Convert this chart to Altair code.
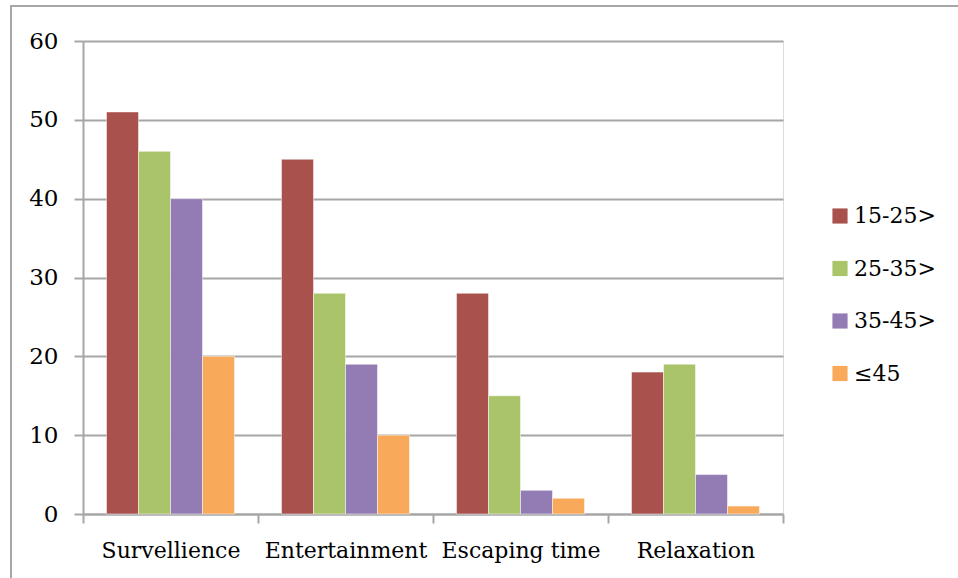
import altair as alt
import pandas as pd

categories = ["Survellience", "Entertainment", "Escaping time", "Relaxation"]
age_groups = ["15-25>", "25-35>", "35-45>", "≤45"]
values_15_25 = [51, 45, 28, 18]
values_25_35 = [46, 28, 15, 19]
values_35_45 = [40, 19, 3, 5]
values_45 = [20, 10, 2, 1]
colors = ["#A9514D", "#AAC46A", "#937BB3", "#F9A95A"]

series = [values_15_25, values_25_35, values_35_45, values_45]
rows = []
for group, vals in zip(age_groups, series):
    for cat, v in zip(categories, vals):
        rows.append({"category": cat, "age": group, "value": v})
df = pd.DataFrame(rows)

FONT = "DejaVu Serif"
GRAY = "#A6A6A6"

bars = alt.Chart(df).mark_bar(stroke="white", strokeWidth=0.5).encode(
    x=alt.X(
        "category:N",
        sort=categories,
        title=None,
        scale=alt.Scale(paddingInner=0, paddingOuter=0),
        axis=alt.Axis(
            labelAngle=0,
            labelFont=FONT,
            labelFontSize=22,
            labelColor="#000000",
            labelPadding=17,
            tickBand="extent",
            tickColor=GRAY,
            tickSize=9,
            tickWidth=2,
            domainColor=GRAY,
            domainWidth=2,
            grid=False,
        ),
    ),
    xOffset=alt.XOffset(
        "age:N",
        sort=age_groups,
        scale=alt.Scale(paddingInner=0, paddingOuter=0.734),
    ),
    y=alt.Y(
        "value:Q",
        title=None,
        scale=alt.Scale(domain=[0, 60], nice=False),
        axis=alt.Axis(
            values=[0, 10, 20, 30, 40, 50, 60],
            labelFont=FONT,
            labelFontSize=23,
            labelColor="#000000",
            labelPadding=16,
            tickColor=GRAY,
            tickSize=9,
            tickWidth=2,
            domainColor=GRAY,
            domainWidth=2,
            gridColor=GRAY,
            gridWidth=2,
        ),
    ),
    color=alt.Color(
        "age:N",
        sort=age_groups,
        scale=alt.Scale(domain=age_groups, range=colors),
        legend=alt.Legend(
            title=None,
            orient="none",
            legendX=746,
            legendY=164,
            symbolType="square",
            symbolSize=230,
            symbolStrokeWidth=0,
            labelFont=FONT,
            labelFontSize=22,
            labelColor="#000000",
            rowPadding=30.5,
            labelOffset=3,
        ),
    ),
)

# outer frame around the whole chart
frame = alt.Chart(pd.DataFrame({"k": [0]})).mark_rect(
    fill=None, stroke=GRAY, strokeWidth=2
).encode(
    x=alt.value(-72),
    x2=alt.value(1000),
    y=alt.value(-35),
    y2=alt.value(700),
)

chart = alt.layer(frame, bars).properties(
    width=700,
    height=473,
    autosize=alt.AutoSizeParams(type="none"),
    padding={"left": 83, "top": 41, "right": 175, "bottom": 64},
).configure_view(stroke=None).configure(background="white")

chart.save("out.html", embed_options={"renderer": "svg", "actions": False})
